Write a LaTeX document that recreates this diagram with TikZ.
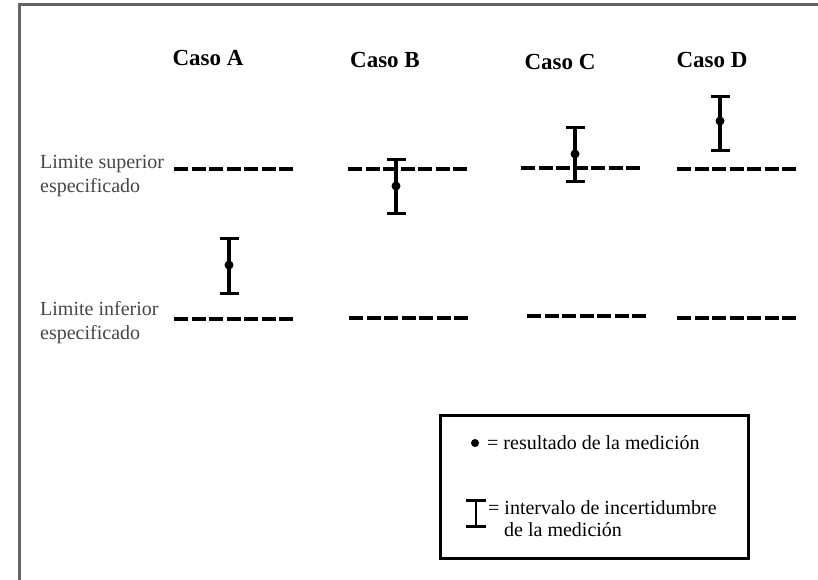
\documentclass[tikz,border=0pt]{standalone}
\usepackage{fontspec}
\setmainfont{Liberation Serif}
\usepackage{tikz}
\usetikzlibrary{arrows.meta,positioning}
\definecolor{framegray}{RGB}{100,100,100}
\definecolor{labelgray}{RGB}{70,70,70}

\begin{document}
\begin{tikzpicture}[
        x=1pt, y=-1pt,
        casolabel/.style={font=\fontsize{23}{27}\selectfont\bfseries},
        limlabel/.style={font=\fontsize{20}{24}\selectfont, text=labelgray, align=left, anchor=west, inner sep=0pt},
        legtext/.style={font=\fontsize{20}{22}\selectfont, align=left, anchor=west, inner sep=0pt},
        limline/.style={line width=3.6pt, dash pattern=on 14pt off 3.5pt},
        errbar/.style={line width=3.2pt, {Bar[width=19pt]}-{Bar[width=19pt]}},
        dot/.style={circle, fill, inner sep=0pt, minimum size=9pt}
    ]
        \useasboundingbox (0,0) rectangle (818,580);
        % scan frame
        \draw[framegray, line width=3pt] (19,580) -- (19,5) -- (818,5);

        % case titles
        \node[casolabel] (casoA) at (208,58) {Caso A};
        \node[casolabel] (casoB) at (385,60) {Caso B};
        \node[casolabel] (casoC) at (560,62) {Caso C};
        \node[casolabel] (casoD) at (712,60) {Caso D};

        % limits
        \node[limlabel] (limsup) at (40,176) {Limite superior\\especificado};
        \node[limlabel] (liminf) at (40,323) {Limite inferior\\especificado};

        \draw[limline] (174,169) -- (293,169);
        \draw[limline] (348,169) -- (467,169);
        \draw[limline] (521,168) -- (640,168);
        \draw[limline] (677,169) -- (796,169);

        \draw[limline] (174,319) -- (293,319);
        \draw[limline] (349,318) -- (468,318);
        \draw[limline] (527,316) -- (646,316);
        \draw[limline] (677,318) -- (796,318);

        % measurements
        \coordinate (topA) at (229,237); \coordinate (botA) at (229,295);
        \coordinate (topB) at (396,158); \coordinate (botB) at (396,215);
        \coordinate (topC) at (575,126); \coordinate (botC) at (575,183);
        \coordinate (topD) at (720,95);  \coordinate (botD) at (720,152);
        \draw[errbar] (topA) -- (botA);
        \draw[errbar] (topB) -- (botB);
        \draw[errbar] (topC) -- (botC);
        \draw[errbar] (topD) -- (botD);
        \node[dot] (resA) at (229,265) {};
        \node[dot] (resB) at (396,186) {};
        \node[dot] (resC) at (575,154) {};
        \node[dot] (resD) at (720,121) {};

        % legend
        \draw[line width=3pt] (440,415) rectangle (748,558);
        \node[dot, minimum size=8pt] (legdot) at (475,443) {};
        \node[legtext] (legres) at (487,443) {= resultado de la medición};
        \coordinate (legtop) at (476,499); \coordinate (legbot) at (476,528);
        \draw[line width=2.6pt, {Bar[width=20pt]}-{Bar[width=20pt]}] (legtop) -- (legbot);
        \node[legtext] (legint) at (488,519) {= intervalo de incertidumbre\\\hspace*{0.8em}de la medición};
    \end{tikzpicture}
\end{document}
